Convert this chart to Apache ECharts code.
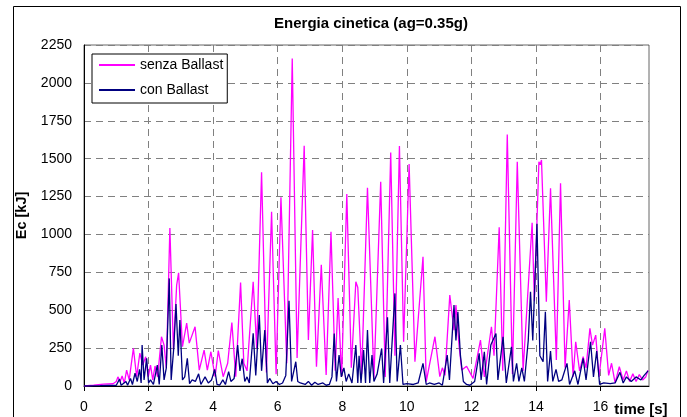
<!DOCTYPE html>
<html>
<head>
<meta charset="utf-8">
<script src="https://cdn.jsdelivr.net/npm/echarts@6/dist/echarts.min.js"></script>
<style>
  html, body {margin: 0; padding: 0; background: #fff;}
  #chart {width: 687px; height: 417px;}
</style>
</head>
<body>
<div id="chart"></div>
<script>
// values: time [s] and Ec [kJ]
const senzaTime = [0, 0.3, 0.6, 0.9, 1.0, 1.05, 1.12, 1.18, 1.25, 1.32, 1.4, 1.53, 1.63, 1.73, 1.82, 1.91, 1.99, 2.06, 2.13, 2.2,
  2.28, 2.4, 2.48, 2.55, 2.66, 2.77, 2.87, 2.93, 3.05, 3.18, 3.26, 3.44, 3.57, 3.72, 3.82, 3.93, 4.06, 4.16, 4.31, 4.45,
  4.58, 4.7, 4.85, 4.95, 5.05, 5.24, 5.35, 5.5, 5.65, 5.81, 5.95, 6.1, 6.28, 6.45, 6.6, 6.82, 6.95, 7.08, 7.2, 7.35,
  7.5, 7.65, 7.78, 7.87, 7.98, 8.14, 8.28, 8.42, 8.48, 8.6, 8.78, 8.98, 9.19, 9.33, 9.5, 9.63, 9.77, 9.9, 10.07, 10.25,
  10.5, 10.6, 10.87, 11.02, 11.1, 11.18, 11.33, 11.46, 11.52, 11.62, 11.7, 11.85, 12.05, 12.28, 12.4, 12.62, 12.7, 12.86, 12.97, 13.11,
  13.27, 13.42, 13.6, 13.88, 13.95, 14.09, 14.13, 14.17, 14.32, 14.45, 14.63, 14.76, 14.9, 15.03, 15.15, 15.23, 15.35, 15.46, 15.55, 15.67,
  15.75, 15.85, 15.95, 16.13, 16.25, 16.34, 16.45, 16.58, 16.7, 16.8, 16.9, 17.0, 17.1, 17.2, 17.3, 17.4, 17.47]
const senzaEc = [0, 5, 12, 15, 30, 60, 30, 66, 20, 105, 40, 249, 61, 217, 139, 193, 61, 138, 40, 132,
  61, 325, 270, 120, 1042, 237, 666, 747, 259, 415, 283, 391, 105, 237, 105, 226, 61, 233, 61, 150,
  418, 62, 682, 150, 100, 688, 250, 1410, 90, 1150, 77, 1245, 150, 2161, 185, 1585, 303, 1029, 127, 800,
  72, 1018, 100, 580, 60, 1266, 120, 688, 650, 80, 1308, 50, 1348, 60, 1541, 200, 1583, 292, 1464, 160,
  853, 29, 325, 62, 120, 70, 600, 369, 534, 259, 105, 130, 50, 303, 60, 391, 200, 1047, 100, 1660,
  80, 1480, 100, 1077, 560, 1480, 1460, 1491, 556, 1304, 171, 1337, 120, 567, 62, 292, 100, 193, 120, 380,
  270, 336, 60, 380, 70, 150, 20, 127, 40, 100, 30, 80, 30, 75, 40, 60, 105]

const conTime = [0, 0.5, 1.0, 1.1, 1.15, 1.3, 1.35, 1.44, 1.5, 1.58, 1.65, 1.72, 1.77, 1.8, 1.86, 1.94, 2.0, 2.06, 2.15, 2.27,
  2.33, 2.41, 2.48, 2.55, 2.64, 2.7, 2.78, 2.85, 2.92, 2.97, 3.05, 3.12, 3.2, 3.27, 3.35, 3.45, 3.55, 3.62, 3.75, 3.85,
  3.95, 4.05, 4.12, 4.2, 4.3, 4.38, 4.48, 4.55, 4.65, 4.76, 4.83, 4.9, 4.98, 5.05, 5.12, 5.24, 5.32, 5.43, 5.5, 5.6,
  5.68, 5.75, 5.85, 5.95, 6.05, 6.15, 6.25, 6.35, 6.43, 6.56, 6.62, 6.7, 6.85, 6.95, 7.05, 7.15, 7.25, 7.4, 7.5, 7.6,
  7.68, 7.75, 7.82, 7.9, 7.97, 8.05, 8.12, 8.2, 8.3, 8.42, 8.48, 8.52, 8.58, 8.66, 8.72, 8.78, 8.85, 8.92, 8.98, 9.08,
  9.22, 9.28, 9.4, 9.47, 9.63, 9.7, 9.8, 9.88, 10.0, 10.2, 10.35, 10.5, 10.6, 10.7, 10.85, 11.0, 11.1, 11.25, 11.32, 11.46,
  11.52, 11.58, 11.66, 11.75, 11.85, 11.95, 12.1, 12.24, 12.3, 12.4, 12.47, 12.6, 12.76, 12.82, 12.98, 13.08, 13.24, 13.3, 13.4, 13.47,
  13.56, 13.64, 13.76, 13.83, 13.9, 14.03, 14.12, 14.22, 14.29, 14.36, 14.45, 14.52, 14.62, 14.7, 14.8, 14.96, 15.04, 15.2, 15.3, 15.46,
  15.55, 15.69, 15.78, 15.88, 15.97, 16.1, 16.3, 16.45, 16.6, 16.7, 16.8, 16.95, 17.1, 17.25, 17.35, 17.47]
const conEc = [0, 2, 5, 45, 5, 30, 5, 50, 10, 84, 30, 110, 20, 270, 40, 182, 20, 40, 10, 138,
  10, 270, 40, 120, 710, 40, 250, 541, 200, 435, 40, 60, 182, 15, 40, 30, 80, 10, 60, 20,
  40, 110, 10, 5, 40, 10, 95, 30, 50, 270, 100, 180, 30, 60, 20, 347, 70, 468, 100, 369,
  20, 50, 15, 30, 10, 20, 70, 563, 30, 160, 30, 20, 10, 30, 5, 25, 10, 20, 5, 10,
  60, 347, 30, 204, 60, 120, 30, 80, 20, 270, 20, 200, 20, 237, 20, 369, 20, 204, 30, 80,
  248, 20, 453, 20, 611, 30, 270, 10, 15, 10, 20, 149, 10, 20, 10, 20, 5, 204, 40, 534,
  300, 490, 200, 30, 10, 5, 30, 215, 40, 225, 10, 270, 347, 40, 325, 20, 259, 30, 150, 30,
  120, 30, 300, 622, 300, 1070, 200, 160, 490, 30, 230, 30, 110, 30, 40, 149, 10, 100, 10, 182,
  40, 292, 60, 230, 10, 20, 15, 20, 90, 20, 60, 30, 60, 40, 70, 100]

const seriesNames = ['senza Ballast', 'con Ballast']
const seriesColors = ['#ff00ff', '#000080']
const xTicks = [0, 2, 4, 6, 8, 10, 12, 14, 16]

const zip = (xs, ys) => xs.map((x, i) => [x, ys[i]])

const font = 'Liberation Sans, Arial, sans-serif'
const gridLine = {lineStyle: {color: '#808080', type: [7, 5], width: 1}}

const chart = echarts.init(document.getElementById('chart'))
chart.setOption({
  animation: false,
  backgroundColor: '#fff',
  textStyle: {fontFamily: font, color: '#000'},
  title: {
    text: 'Energia cinetica (ag=0.35g)',
    left: 366,
    top: 11,
    textAlign: 'center',
    textStyle: {fontFamily: font, fontSize: 15, fontWeight: 'bold', color: '#000'}
  },
  graphic: [{
    type: 'rect',
    shape: {x: 13.5, y: 6.5, width: 667, height: 500},
    style: {fill: 'none', stroke: '#000', lineWidth: 1},
    silent: true,
    z: -1
  }],
  legend: {
    orient: 'vertical',
    left: 92,
    top: 54,
    padding: [4, 4, 6, 7],
    icon: 'rect',
    itemWidth: 36,
    itemHeight: 2,
    itemGap: 11,
    borderColor: '#000',
    borderWidth: 1,
    backgroundColor: '#fff',
    textStyle: {fontFamily: font, fontSize: 14, color: '#000', lineHeight: 14},
    data: seriesNames
  },
  grid: {
    left: 84, top: 45, right: 38, bottom: 31,
    show: true, borderColor: '#666', borderWidth: 1,
    containLabel: false
  },
  xAxis: {
    type: 'value',
    min: 0,
    max: 17.5,
    interval: 2,
    name: 'time [s]',
    nameLocation: 'end',
    nameGap: -39,
    nameTextStyle: {
      fontFamily: font, fontSize: 15, fontWeight: 'bold', color: '#000',
      align: 'left', verticalAlign: 'top', padding: [16, 0, 0, 0]
    },
    axisLine: {show: true, lineStyle: {color: '#000', width: 1}},
    axisTick: {show: true, length: 5, lineStyle: {color: '#000'}, customValues: xTicks},
    axisLabel: {fontFamily: font, fontSize: 14, color: '#000', margin: 14, customValues: xTicks},
    splitLine: {show: true, ...gridLine}
  },
  yAxis: {
    type: 'value',
    min: 0,
    max: 2250,
    interval: 250,
    name: 'Ec [kJ]',
    nameLocation: 'middle',
    nameGap: 38,
    nameTextStyle: {fontFamily: font, fontSize: 14.5, fontWeight: 'bold', color: '#000'},
    axisLine: {show: true, lineStyle: {color: '#000', width: 1}},
    axisTick: {show: false},
    axisLabel: {fontFamily: font, fontSize: 14, color: '#000', margin: 12, formatter: v => String(v)},
    splitLine: {show: true, ...gridLine}
  },
  series: [{
    name: seriesNames[0],
    type: 'line',
    data: zip(senzaTime, senzaEc),
    symbol: 'none',
    lineStyle: {color: seriesColors[0], width: 1.3},
    itemStyle: {color: seriesColors[0]},
    z: 2
  }, {
    name: seriesNames[1],
    type: 'line',
    data: zip(conTime, conEc),
    symbol: 'none',
    lineStyle: {color: seriesColors[1], width: 1.3},
    itemStyle: {color: seriesColors[1]},
    z: 3
  }]
})
</script>
</body>
</html>
